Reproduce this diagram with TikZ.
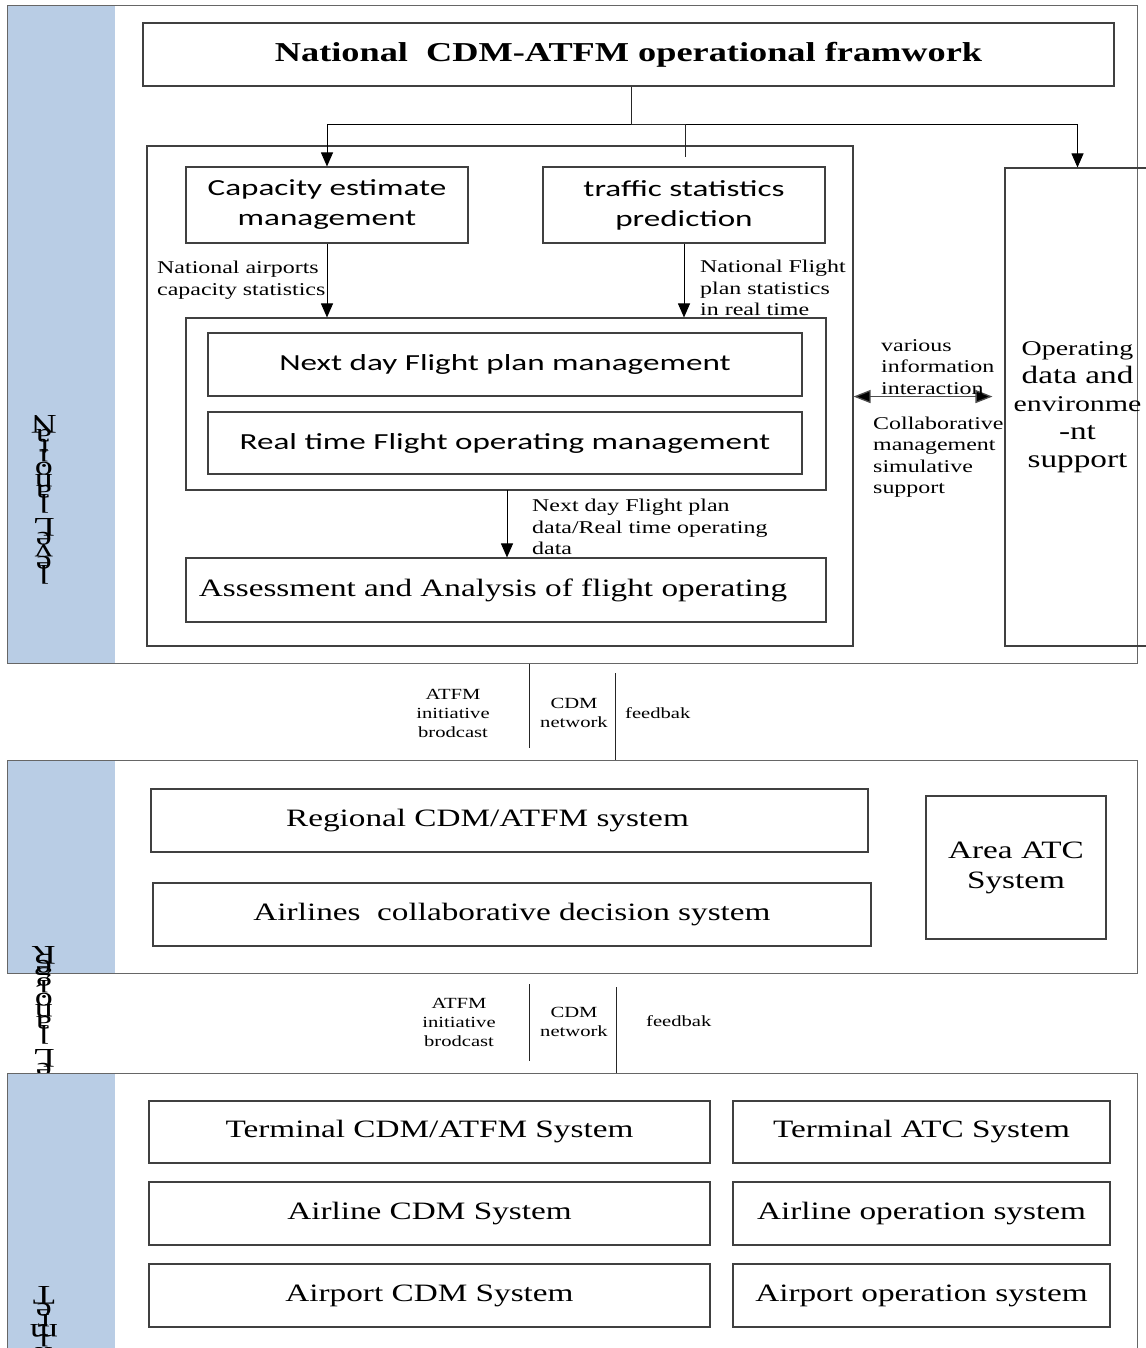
\documentclass[tikz,border=0pt]{standalone}
\usepackage{fontspec}
\setmainfont[FakeStretch=1.33]{Liberation Serif}
\newfontfamily\calw[FakeStretch=1.44]{Carlito}
\usetikzlibrary{arrows.meta}
\definecolor{band}{HTML}{B9CDE5}
\definecolor{ln}{HTML}{404040}
\begin{document}
\begin{tikzpicture}[x=1pt,y=-1pt,
 bandbox/.style={fill=band, draw=none, inner sep=0pt, anchor=north west},
 panel/.style={draw=black!60, line width=1.1pt, inner sep=0pt, anchor=north west},
 box/.style={draw=ln, line width=1.1pt, inner sep=0pt, align=center, font=\fontsize{25}{30}\selectfont},
 sbox/.style={box, font=\calw\fontsize{23}{30}\selectfont},
 lbl/.style={inner sep=0pt, align=left, anchor=west, font=\fontsize{18}{21.5}\selectfont},
 glbl/.style={inner sep=0pt, align=center, font=\fontsize{15.5}{19}\selectfont},
 arr/.style={draw=black, line width=1pt, -{Triangle[width=12pt,length=14pt]}},
 darr/.style={draw=black!70, line width=1.3pt, {Triangle[width=13pt,length=17pt,fill=black]}-{Triangle[width=13pt,length=17pt,fill=black]}},
 conn/.style={draw=black!85, line width=1pt},
 vch/.style={inner sep=0pt, rotate=180, font=\fontsize{27}{27}\selectfont}]
\useasboundingbox (0,0) rectangle (1145,1348);

% ---------- National panel ----------
\node[bandbox, minimum width=108, minimum height=658] (natband) at (7,5) {};
\node[panel, minimum width=1130, minimum height=658] (nat) at (7,5) {};
\foreach \c/\yy [count=\i] in {N/424,a/436,t/447,i/458,o/469,n/481,a/492,l/504,L/527,e/539,v/551,e/563,l/575}
  \node[vch] (nch\i) at (44,\yy) {\c};

\node[box, font=\bfseries\fontsize{27.3}{30}\selectfont, minimum width=971, minimum height=63] (title) at (628.5,54.5) {National\ \ CDM-ATFM operational framwork};

\node[draw=ln, line width=1.1pt, inner sep=0pt, minimum width=706, minimum height=500] (cont) at (500,396) {};
\node[sbox, minimum width=282, minimum height=76] (cap) at (327,205) {Capacity estimate\\management};
\node[sbox, minimum width=282, minimum height=76] (traf) at (684,205) {traffic statistics\\prediction};
\node[draw=ln, line width=1.1pt, inner sep=0pt, minimum width=640, minimum height=172] (fm) at (506,404) {};
\node[sbox, minimum width=594, minimum height=63] (nextday) at (505,364.5) {Next day Flight plan management};
\node[sbox, minimum width=594, minimum height=62] (realtime) at (505,443) {Real time Flight operating management};
\node[box, minimum width=640, minimum height=64] (assess) at (506,590) {Assessment and Analysis of flight operating\hspace*{26pt}};
\node[box, minimum width=145, minimum height=478, font=\fontsize{25}{28}\selectfont] (oper) at (1077.5,407)
  {{\fontsize{21}{28}\selectfont Operating}\\data and\\{\fontsize{22.5}{28}\selectfont environme}\\-nt\\support};

% connectors from title
\coordinate (j) at (631,125);
\coordinate (stub) at (685,157);
\draw[conn] (title.south -| j) -- (j);
\draw[arr] (j) -| (cap.north);
\draw[arr] (j) -| (oper.north);
\draw[conn] (j) -| (stub);
\draw[arr] (cap.south) -- (cap.south |- fm.north);
\draw[arr] (traf.south) -- (traf.south |- fm.north);
\coordinate (fa) at (507,490);
\draw[arr] (fa) -- (fa |- assess.north);
\draw[darr, shorten >=12pt] (cont.east |- nextday.south) -- (oper.west |- nextday.south);

\node[lbl] (l1) at (157,280) {National airports\\capacity statistics};
\node[lbl] (l2) at (700,288) {National Flight\\plan statistics\\in real time};
\node[lbl] (l3) at (532,527) {Next day Flight plan\\data/Real time operating\\data};
\node[lbl] (l4) at (881,367) {various\\information\\interaction};
\node[lbl] (l5) at (873,457) {Collaborative\\management\\simulative\\support};

% ---------- gap 1 ----------
\coordinate (g1a) at (529,748);
\coordinate (g1b) at (615,673);
\draw[conn] (nat.south -| g1a) -- (g1a);
\node[glbl] (ga1) at (453,713) {ATFM\\initiative\\brodcast};
\node[glbl] (gc1) at (574,713) {CDM\\network};
\node[glbl, anchor=west] (gf1) at (625,713) {feedbak};

% ---------- Regional panel ----------
\node[bandbox, minimum width=108, minimum height=213] (regband) at (7,760) {};
\node[panel, minimum width=1130, minimum height=213] (reg) at (7,760) {};
\draw[conn] (g1b) -- (g1b |- reg.north);
\foreach \c/\yy [count=\i] in {R/955,e/967,g/978,i/989,o/1000,n/1011,a/1023,l/1035,L/1058,e/1070,v/1082}
  \node[vch] (rch\i) at (44,\yy) {\c};
\node[box, minimum width=717, minimum height=63] (regcdm) at (509.5,820.5) {Regional CDM/ATFM system\hspace*{44pt}};
\node[box, minimum width=718, minimum height=63] (airl) at (512,914.5) {Airlines\ \ collaborative decision system};
\node[box, minimum width=180, minimum height=143] (areaatc) at (1016,867.5) {Area ATC\\System};

% ---------- gap 2 ----------
\coordinate (g2a) at (529,984);
\coordinate (g2b) at (616,987);
\draw[conn] (g2a) -- (529,1061);
\node[glbl] (ga2) at (459,1022) {ATFM\\initiative\\brodcast};
\node[glbl] (gc2) at (574,1022) {CDM\\network};
\node[glbl, anchor=west] (gf2) at (646,1021) {feedbak};

% ---------- Terminal panel ----------
\node[bandbox, minimum width=108, minimum height=300] (termband) at (7,1073) {};
\node[panel, minimum width=1130, minimum height=300] (term) at (7,1073) {};
\draw[conn] (g2b) -- (g2b |- term.north);
\foreach \c/\yy [count=\i] in {T/1295,e/1310,r/1321,m/1331,i/1343,n/1354}
  \node[vch] (tch\i) at (44,\yy) {\c};
\node[box, minimum width=561, minimum height=62] (termcdm) at (429.5,1132) {Terminal CDM/ATFM System};
\node[box, minimum width=377, minimum height=62] (termatc) at (921.5,1132) {Terminal ATC System};
\node[box, minimum width=561, minimum height=63] (alcdm) at (429.5,1213.5) {Airline CDM System};
\node[box, minimum width=377, minimum height=63] (alop) at (921.5,1213.5) {Airline operation system};
\node[box, minimum width=561, minimum height=63] (apcdm) at (429.5,1295.5) {Airport CDM System};
\node[box, minimum width=377, minimum height=63] (apop) at (921.5,1295.5) {Airport operation system};
\end{tikzpicture}
\end{document}
